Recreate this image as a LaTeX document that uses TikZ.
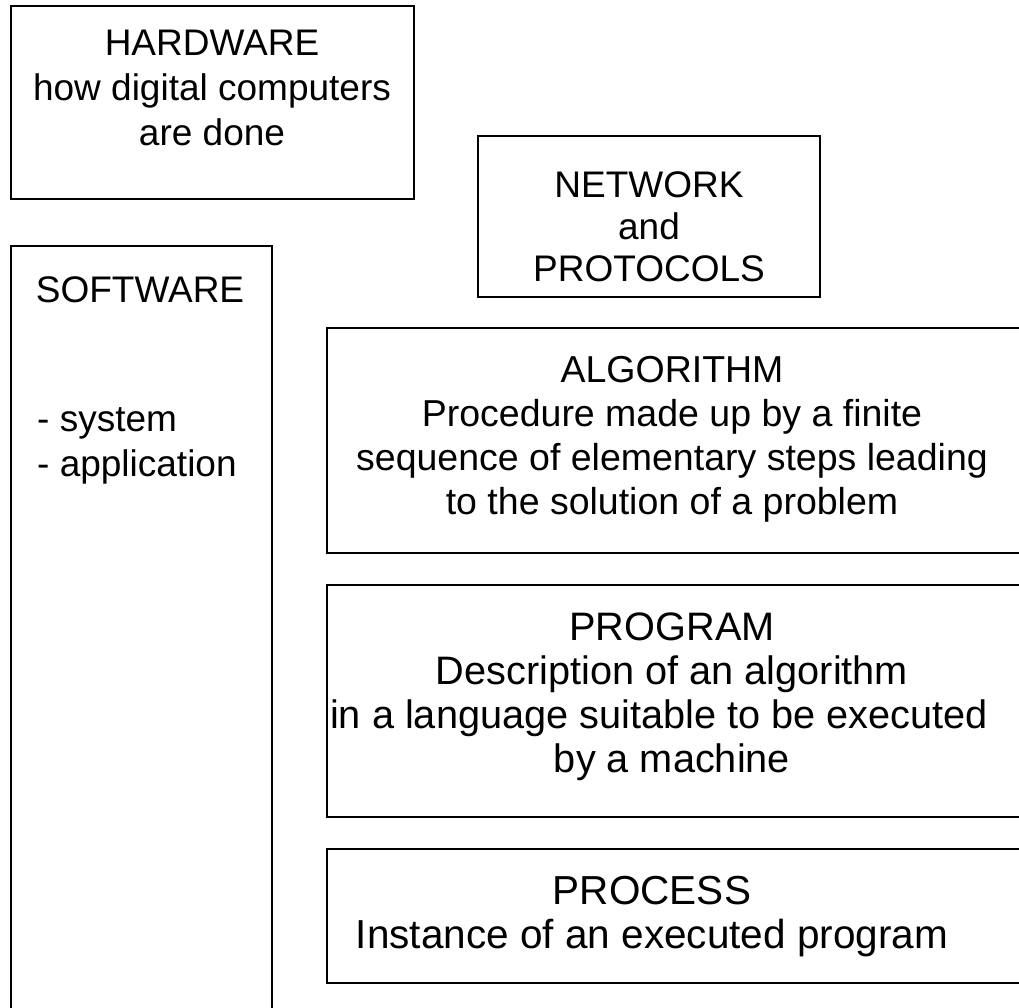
\documentclass[tikz,border=0pt]{standalone}
\usepackage{fontspec}
\setmainfont{Liberation Sans}
\begin{document}
\begin{tikzpicture}[x=1pt,y=-1pt,
  box/.style={draw=black, line width=2pt, rectangle, inner sep=0pt, outer sep=0pt},
  bigtxt/.style={align=center, inner sep=0pt, font=\fontsize{37}{45}\selectfont},
  algtxt/.style={align=center, inner sep=0pt, font=\fontsize{37.5}{44}\selectfont},
  midtxt/.style={align=center, inner sep=0pt, font=\fontsize{39.7}{44}\selectfont}]
\useasboundingbox (0,0) rectangle (1019,1007);
\clip (0,0) rectangle (1019,1007);
% boxes
\node[box, minimum width=403.5pt, minimum height=193.5pt] (hw) at (212.25,102.25) {};
\node[box, minimum width=342pt, minimum height=161pt] (net) at (649,216.5) {};
\node[box, minimum width=261.5pt, minimum height=800pt] (sw) at (141.25,646) {};
\node[box, minimum width=700pt, minimum height=225pt] (alg) at (677,440.5) {};
\node[box, minimum width=700pt, minimum height=232pt] (prg) at (677,701) {};
\node[box, minimum width=700pt, minimum height=134pt] (prc) at (677,916) {};
% texts
\node[bigtxt] (hwt) at (212,88) {HARDWARE\\how digital computers\\are done};
\node[bigtxt, font=\fontsize{37}{42}\selectfont] (nett) at (649,227) {NETWORK\\and\\PROTOCOLS};
\node[bigtxt] (swt) at (140,290) {SOFTWARE};
\node[bigtxt, align=left, anchor=west] (swl) at (37,446) {- system\\- application};
\node[algtxt] (algt) at (672,439) {ALGORITHM\\Procedure made up by a finite\\sequence of elementary steps leading\\to the solution of a problem};
\node[midtxt] (prgt) at (672,697) {PROGRAM\\Description of an algorithm\\\hspace*{-26pt}in a language suitable to be executed\\by a machine};
\node[midtxt, font=\fontsize{40.5}{44}\selectfont] (prct) at (652,917) {PROCESS\\Instance of an executed program};
\end{tikzpicture}
\end{document}
